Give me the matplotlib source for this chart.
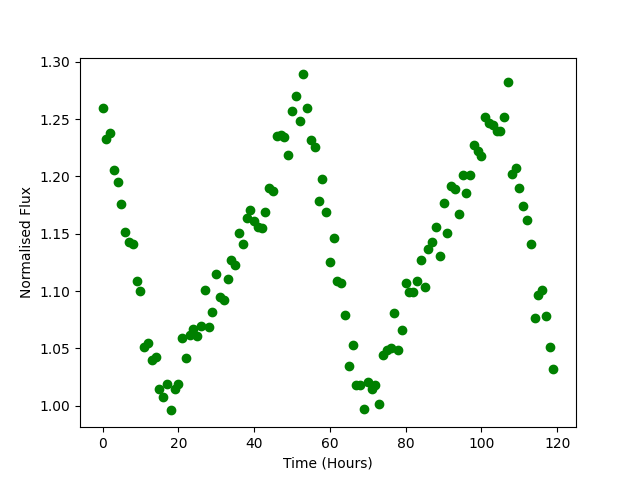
import numpy as np
import matplotlib
matplotlib.use("Agg")
import matplotlib.pyplot as plt

# hourly normalised flux readings
hours = np.arange(120)
flux = [
    1.260, 1.233, 1.238, 1.206, 1.195, 1.176, 1.152, 1.143, 1.141, 1.109,
    1.100, 1.051, 1.055, 1.040, 1.043, 1.015, 1.008, 1.019, 0.996, 1.015,
    1.019, 1.059, 1.042, 1.062, 1.067, 1.061, 1.070, 1.101, 1.069, 1.082,
    1.115, 1.095, 1.092, 1.111, 1.127, 1.123, 1.151, 1.141, 1.164, 1.171,
    1.161, 1.156, 1.155, 1.169, 1.190, 1.187, 1.235, 1.236, 1.234, 1.219,
    1.257, 1.270, 1.248, 1.289, 1.260, 1.232, 1.226, 1.179, 1.198, 1.169,
    1.125, 1.146, 1.109, 1.107, 1.079, 1.035, 1.053, 1.018, 1.018, 0.997,
    1.021, 1.015, 1.018, 1.002, 1.044, 1.049, 1.050, 1.081, 1.049, 1.066,
    1.107, 1.099, 1.099, 1.109, 1.127, 1.104, 1.137, 1.143, 1.156, 1.131,
    1.177, 1.151, 1.192, 1.189, 1.167, 1.201, 1.186, 1.201, 1.227, 1.222,
    1.218, 1.252, 1.247, 1.245, 1.240, 1.240, 1.252, 1.282, 1.202, 1.207,
    1.190, 1.174, 1.162, 1.141, 1.077, 1.097, 1.101, 1.078, 1.051, 1.032,
]

plt.figure(figsize=(6.4, 4.8), dpi=100)
plt.plot(hours, flux, 'o', color='green')
plt.xlabel("Time (Hours)")
plt.ylabel("Normalised Flux")
plt.savefig("out.png")
